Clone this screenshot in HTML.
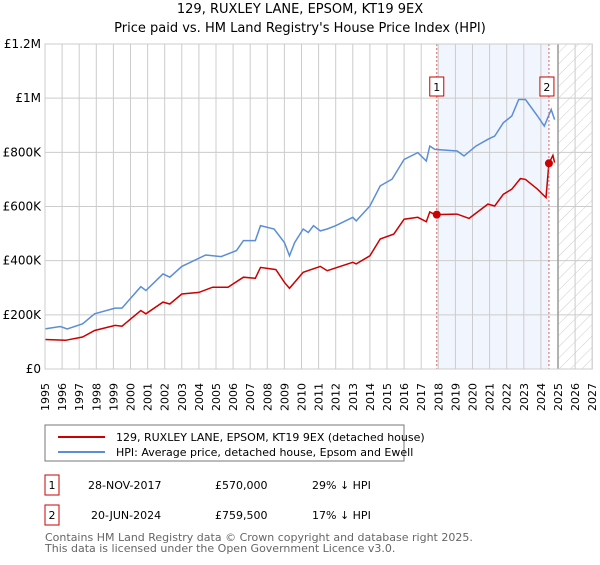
<!DOCTYPE html>
<html><head><meta charset="utf-8"><style>
body{margin:0;background:#fff;font-family:"Liberation Sans","DejaVu Sans",sans-serif;}
svg text{font-family:"DejaVu Sans","Liberation Sans",sans-serif;}
</style></head><body>
<svg id="c" width="600" height="560" xmlns="http://www.w3.org/2000/svg">
<defs><pattern id="hatch" width="8" height="8" patternUnits="userSpaceOnUse" patternTransform="rotate(45)"><line x1="0" y1="0" x2="0" y2="8" stroke="#ccc" stroke-width="1"/></pattern></defs>
<text x="300" y="13" text-anchor="middle" font-size="13" fill="#000">129, RUXLEY LANE, EPSOM, KT19 9EX</text>
<text x="300" y="32" text-anchor="middle" font-size="13" fill="#000">Price paid vs. HM Land Registry's House Price Index (HPI)</text>
<g id="plot"></g>
<rect x="45" y="425" width="359" height="36" fill="#fff" stroke="#777"/>
<line x1="58" y1="437" x2="105" y2="437" stroke="#cc0000" stroke-width="2"/>
<text x="116" y="441" font-size="11">129, RUXLEY LANE, EPSOM, KT19 9EX (detached house)</text>
<line x1="58" y1="452" x2="105" y2="452" stroke="#5b8ed6" stroke-width="2"/>
<text x="116" y="456" font-size="11">HPI: Average price, detached house, Epsom and Ewell</text>
<g>
<rect x="45" y="475" width="14" height="20" fill="none" stroke="#cc0000"/>
<text x="52" y="489" text-anchor="middle" font-size="11">1</text>
<text x="88" y="489" font-size="11">28-NOV-2017</text>
<text x="215" y="489" font-size="11">£570,000</text>
<text x="312" y="489" font-size="11">29% ↓ HPI</text></g>
<g>
<rect x="45" y="505" width="14" height="20" fill="none" stroke="#cc0000"/>
<text x="52" y="519" text-anchor="middle" font-size="11">2</text>
<text x="91" y="519" font-size="11">20-JUN-2024</text>
<text x="215" y="519" font-size="11">£759,500</text>
<text x="312" y="519" font-size="11">17% ↓ HPI</text></g>
<text x="45" y="541" font-size="11" fill="#666">Contains HM Land Registry data © Crown copyright and database right 2025.</text>
<text x="45" y="552" font-size="11" fill="#666">This data is licensed under the Open Government Licence v3.0.</text>
</svg>
<script>
const hpiYears=[1995.0,1995.9,1996.3,1997.2,1997.9,1999.1,1999.5,2000.6,2000.9,2001.9,2002.3,2003.0,2003.5,2004.4,2005.3,2006.2,2006.6,2007.3,2007.6,2008.4,2009.0,2009.3,2009.6,2010.1,2010.4,2010.7,2011.1,2011.5,2012.0,2013.0,2013.2,2014.0,2014.6,2015.3,2016.0,2016.8,2017.3,2017.5,2017.8,2019.1,2019.5,2020.2,2020.9,2021.3,2021.8,2022.3,2022.7,2023.1,2023.8,2024.2,2024.6,2024.8];
const hpiValues=[148,157,148,167,204,225,225,304,290,351,339,379,394,421,415,437,474,474,529,517,467,418,467,517,504,529,510,517,529,560,547,602,676,701,774,799,768,823,811,805,787,823,848,860,909,934,995,995,934,897,958,921];
const priceYears=[1995.0,1996.2,1997.2,1997.9,1999.1,1999.5,2000.6,2000.9,2001.9,2002.3,2003.0,2004.0,2004.8,2005.7,2006.6,2007.3,2007.6,2008.5,2009.0,2009.3,2010.1,2011.1,2011.5,2013.0,2013.2,2014.0,2014.6,2015.4,2016.0,2016.8,2017.3,2017.5,2017.8,2019.1,2019.8,2020.9,2021.3,2021.8,2022.3,2022.8,2023.1,2023.8,2024.3,2024.47,2024.7,2024.8];
const priceValues=[109,106,118,142,161,158,216,204,247,240,277,283,302,302,339,335,375,367,320,298,357,379,363,394,388,418,480,498,553,560,544,580,570,572,556,609,602,645,664,703,700,664,633,759,789,762];
const saleYears=[2017.91,2024.47];
const saleValues=[570,759.5];
const saleLabels=["1","2"];
const yTicks=[0,200,400,600,800,1000,1200];
const yTickLabels=["£0","£200K","£400K","£600K","£800K","£1M","£1.2M"];
const xTicks=[1995,1996,1997,1998,1999,2000,2001,2002,2003,2004,2005,2006,2007,2008,2009,2010,2011,2012,2013,2014,2015,2016,2017,2018,2019,2020,2021,2022,2023,2024,2025,2026,2027];
const X0=45,XW=17.1,Y0=369,YH=325/1200,TOP=44;
const x=v=>X0+(v-1995)*XW, y=v=>Y0-v*YH;
const NS="http://www.w3.org/2000/svg",g=document.getElementById('plot');
function mk(t,a){const e=document.createElementNS(NS,t);for(const k in a)e.setAttribute(k,a[k]);g.appendChild(e);return e;}
const xR=x(2027);
let e=mk('rect',{x:x(2017.91),y:TOP,width:x(2024.47)-x(2017.91),height:Y0-TOP,fill:'#eef3fc',opacity:0.8});


e=mk('rect',{x:x(2025),y:TOP,width:xR-x(2025),height:Y0-TOP,fill:'url(#hatch)'});


xTicks.forEach(t=>{e=mk('line',{x1:x(t),x2:x(t),y1:TOP,y2:Y0,stroke:'#ccc'});


const lx=x(t)+4,ly=Y0+14;
e=mk('text',{x:lx,y:ly,'text-anchor':'end','font-size':11,transform:'rotate(-90 '+lx+' '+ly+')'});e.textContent=t;

});
yTicks.forEach((t,i)=>{e=mk('line',{x1:X0,x2:xR,y1:y(t),y2:y(t),stroke:'#ccc'});


e=mk('text',{x:X0-4,y:y(t)+4,'text-anchor':'end','font-size':12});e.textContent=yTickLabels[i];

});
e=mk('line',{x1:x(2025),x2:x(2025),y1:TOP,y2:Y0,stroke:'#999','stroke-width':1.5});


function path(xs,vs,col,name){const d=xs.map((t,i)=>(i?'L':'M')+x(t).toFixed(1)+','+y(vs[i]).toFixed(1)).join('');
const p=mk('path',{d:d,fill:'none',stroke:col,'stroke-width':1.5});

}
path(hpiYears,hpiValues,'#5b8ed6','hpi-line');
path(priceYears,priceValues,'#cc0000','price-paid-line');
saleYears.forEach((t,i)=>{
e=mk('line',{x1:x(t),x2:x(t),y1:TOP,y2:Y0,stroke:'#e06060','stroke-dasharray':'2,2'});


e=mk('circle',{cx:x(t),cy:y(saleValues[i]),r:4,fill:'#cc0000'});


e=mk('rect',{x:x(t)-7-(i?2:0),y:77,width:14,height:19,fill:'#fff',stroke:'#cc0000'});


e=mk('text',{x:x(t)-(i?2:0),y:91,'text-anchor':'middle','font-size':11});e.textContent=saleLabels[i];

});
e=mk('rect',{x:X0,y:TOP,width:xR-X0,height:Y0-TOP,fill:'none',stroke:'#ccc'});


</script>
</body></html>
